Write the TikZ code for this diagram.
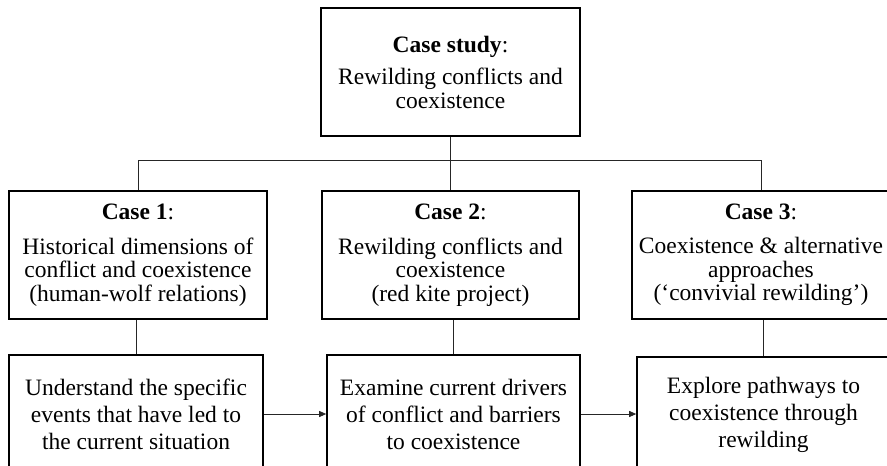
\documentclass[tikz,border=0pt]{standalone}
\usepackage{fontspec}
\setmainfont{Liberation Serif}
\usetikzlibrary{arrows.meta}
\begin{document}
\begin{tikzpicture}[x=1pt,y=-1pt,
  box/.style={draw=black,line width=1.6pt,inner sep=0pt,align=center,
    font=\fontsize{23.5}{23.5}\selectfont},
  lowbox/.style={box,font=\fontsize{23.5}{27}\selectfont},
  conn/.style={draw=black!85,line width=0.8pt},
  arr/.style={conn,-{Triangle[length=7pt,width=6pt]}}]
\useasboundingbox (0,0) rectangle (887,466);
\node[box,minimum width=259pt,minimum height=128pt] (top) at (450.5,72)
  {\textbf{Case study}:\\[9pt]Rewilding conflicts and\\coexistence};
\node[box,minimum width=258pt,minimum height=128pt] (c1) at (138,255)
  {\textbf{Case 1}:\\[11pt]Historical dimensions of\\conflict and coexistence\\(human-wolf relations)};
\node[box,minimum width=257pt,minimum height=128pt] (c2) at (450.5,255)
  {\textbf{Case 2}:\\[11pt]Rewilding conflicts and\\coexistence\\(red kite project)};
\node[box,minimum width=258pt,minimum height=128pt] (c3) at (761,255)
  {\textbf{Case 3}:\\[11pt]Coexistence \& alternative\\approaches\\(‘convivial rewilding’)};
\node[lowbox,minimum width=254pt,minimum height=118pt] (b1) at (136,414)
  {Understand the specific\\events that have led to\\the current situation};
\node[lowbox,minimum width=253pt,minimum height=118pt] (b2) at (453.5,414)
  {Examine current drivers\\of conflict and barriers\\to coexistence};
\node[lowbox,minimum width=253pt,minimum height=116pt] (b3) at (763.5,415)
  {Explore pathways to\\coexistence through\\rewilding};
\coordinate (hub) at (450.5,160);
\draw[conn] (top.south) -- (hub);
\draw[conn] (c1.north) -- (c1.north |- hub) -- (c3.north |- hub) -- (c3.north);
\draw[conn] (hub) -- (c2.north);
\draw[conn] (b1.north) -- (b1.north |- c1.south);
\draw[conn] (b2.north) -- (b2.north |- c2.south);
\draw[conn] (b3.north) -- (b3.north |- c3.south);
\draw[arr] (b1.east) -- (b2.west);
\draw[arr] (b2.east) -- (b2.east -| b3.west);
\end{tikzpicture}
\end{document}
